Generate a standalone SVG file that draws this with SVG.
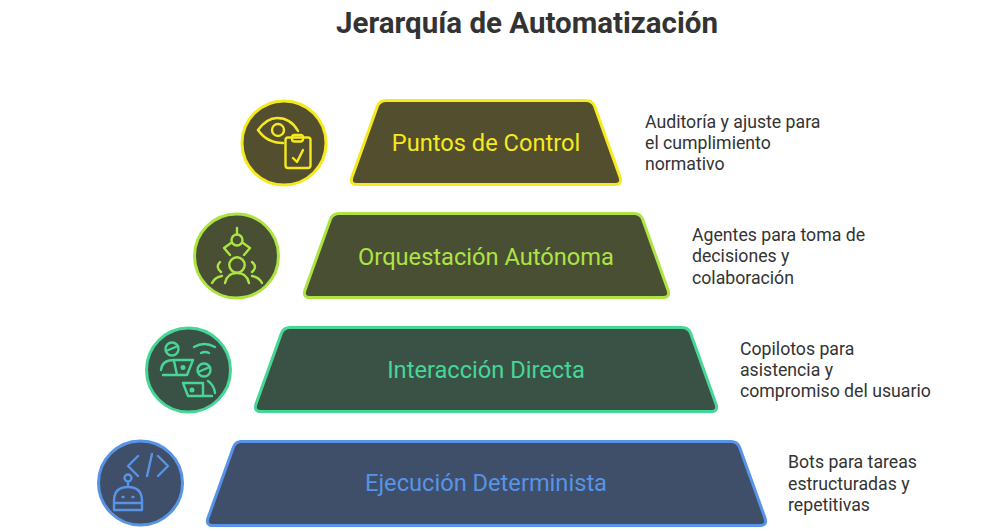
<svg xmlns="http://www.w3.org/2000/svg" width="1000" height="531" viewBox="0 0 1000 531">
<style>
text{font-family:Roboto,"Liberation Sans",sans-serif}
.title{font-size:29.500px;font-weight:700;fill:#333;text-anchor:middle}
.lab{font-size:23.650px;text-anchor:middle}
.desc{font-size:17.700px;fill:#333}
.shape{stroke-width:3;stroke-linejoin:round}
.ico{fill:none;stroke-width:2.400;stroke-linecap:round;stroke-linejoin:round}
.y{stroke:#f6ea1e}.yf{fill:#534f2e}.yt{fill:#f6ea1e}
.l{stroke:#aee344}.lf{fill:#484f33}.lt{fill:#aee344}
.g{stroke:#46d696}.gf{fill:#3a5246}.gt{fill:#46d696}
.b{stroke:#5793e6}.bf{fill:#3f4f69}.bt{fill:#5793e6}
</style>
<text class="title" x="527" y="33">Jerarquía de Automatización</text>
<g id="connectors"></g>
<g id="node-puntos">
<path class="shape y yf" d="M386 100.500H586Q592 100.500 594.500 106L620 177Q622.500 184.500 615 184.500H357Q349.500 184.500 352 177L377.500 106Q380 100.500 386 100.500Z"/>
<text class="lab yt" x="486" y="151">Puntos de Control</text>
<circle class="shape y yf" cx="284" cy="143" r="42"/>
<g class="ico y">
<path d="M258 130Q267 118 277 118Q291 118 298 131"/>
<path d="M258 130Q267 143 283 143"/>
<circle cx="278" cy="130" r="6"/>
<rect x="285.500" y="137.500" width="25" height="30.500" rx="2.500"/>
<rect x="292" y="135" width="11" height="6.500" rx="2.500"/>
<path d="M293 158L297 162L303 150"/>
</g>
<text class="desc" x="645" y="128">Auditoría y ajuste para</text>
<text class="desc" x="645" y="149">el cumplimiento</text>
<text class="desc" x="645" y="170">normativo</text>
</g>
<g id="node-orquestacion">
<path class="shape l lf" d="M339 213.500H634Q640 213.500 642.500 219L668 290Q670.500 297.500 663 297.500H310Q302.500 297.500 305 290L330.500 219Q333 213.500 339 213.500Z"/>
<text class="lab lt" x="486" y="265">Orquestación Autónoma</text>
<circle class="shape l lf" cx="236.500" cy="256" r="42"/>
<g class="ico l">
<path d="M237 228V234"/>
<circle cx="237" cy="240" r="5.500"/>
<path d="M231 243L224 248L230 255M243 243L250 248L244 255"/>
<circle cx="237" cy="265" r="7.700"/>
<path d="M225 283Q227 273 237 273Q247 273 249 283"/>
<path d="M220 262Q215 267 221 272M252 262Q258 267 252 272"/>
<path d="M212 283Q215 277 222 276M262 283Q259 277 252 276"/>
</g>
<text class="desc" x="692" y="241">Agentes para toma de</text>
<text class="desc" x="692" y="262">decisiones y</text>
<text class="desc" x="692" y="284">colaboración</text>
</g>
<g id="node-interaccion">
<path class="shape g gf" d="M290 327.500H682Q688 327.500 690.500 333L716 404Q718.500 411.500 711 411.500H261Q253.500 411.500 256 404L281.500 333Q284 327.500 290 327.500Z"/>
<text class="lab gt" x="486" y="378">Interacción Directa</text>
<circle class="shape g gf" cx="188.500" cy="370" r="42"/>
<g class="ico g">
<circle cx="172" cy="349" r="6.500"/>
<path d="M166 351L178 346"/>
<path d="M161 370Q162 360 174 360H193L187 375H163M174 361L177 375"/>
<circle cx="183" cy="367.500" r="1.300"/>
<path d="M194 347Q204 341 215 347M201 353Q205 351 209 353"/>
<circle cx="204" cy="370" r="6.500"/>
<path d="M198 372L210 367"/>
<path d="M183 383H203V396H212M183 383L188 396H203"/>
<circle cx="192" cy="390" r="1.300"/>
<path d="M208 381Q214 385 215 393"/>
</g>
<text class="desc" x="740" y="355">Copilotos para</text>
<text class="desc" x="740" y="376">asistencia y</text>
<text class="desc" x="740" y="397">compromiso del usuario</text>
</g>
<g id="node-ejecucion">
<path class="shape b bf" d="M241 441.500H731Q737 441.500 739.500 447L765 518Q767.500 525.500 760 525.500H213Q205.500 525.500 208 518L233.500 447Q236 441.500 241 441.500Z"/>
<text class="lab bt" x="486" y="491">Ejecución Determinista</text>
<circle class="shape b bf" cx="140.500" cy="483" r="42"/>
<g class="ico b">
<path d="M138 456L128 466L138 476M158 456L168 466L158 476M152 454L147 476"/>
<circle cx="128" cy="478" r="3.500"/>
<path d="M128 482V487"/>
<path d="M114 510V501Q114 487 128 487Q142 487 142 501V510Z"/>
<path d="M114 503H142"/>
<path d="M122.500 497H123.500M132.500 497H133.500"/>
</g>
<text class="desc" x="788" y="468">Bots para tareas</text>
<text class="desc" x="788" y="490">estructuradas y</text>
<text class="desc" x="788" y="511">repetitivas</text>
</g>
</svg>
